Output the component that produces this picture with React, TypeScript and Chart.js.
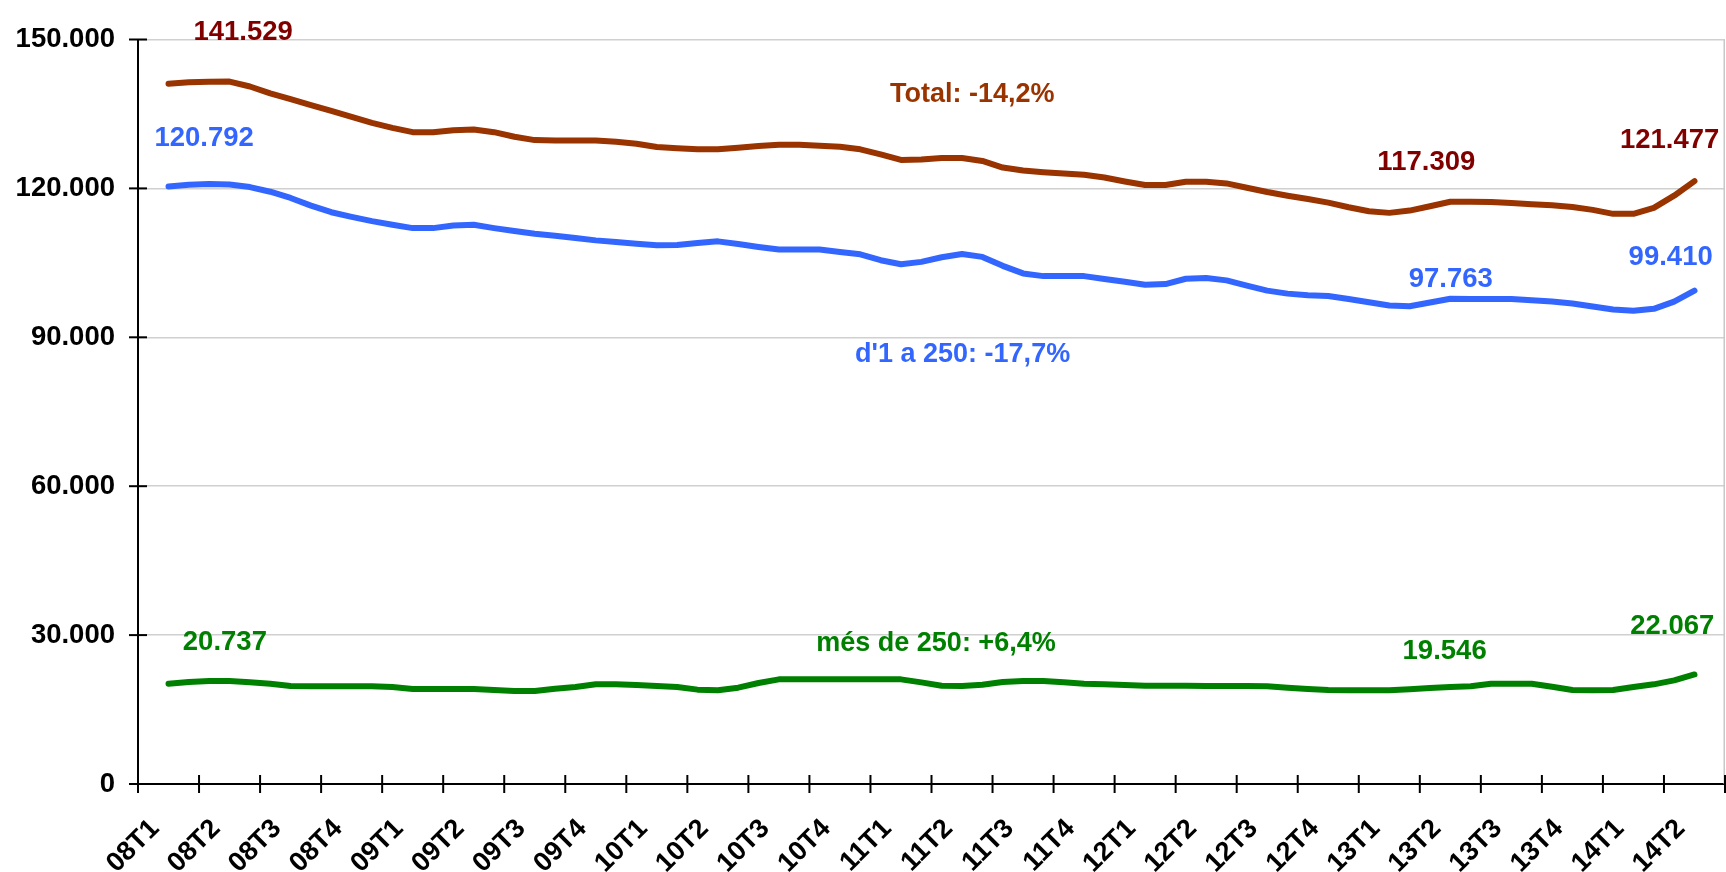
import React, { useEffect, useRef } from 'react';
import { Chart, registerables } from 'chart.js';

Chart.register(...registerables);

// Quarter labels (one every 3 months on the axis)
const quarterLabels = [
  '08T1', '08T2', '08T3', '08T4',
  '09T1', '09T2', '09T3', '09T4',
  '10T1', '10T2', '10T3', '10T4',
  '11T1', '11T2', '11T3', '11T4',
  '12T1', '12T2', '12T3', '12T4',
  '13T1', '13T2', '13T3', '13T4',
  '14T1', '14T2',
];

// Monthly values, Feb 2008 .. May 2014
const totalValues = [
  141100, 141400, 141470, 141529, 140530, 139150, 138000, 136800, 135600, 134400,
  133200, 132200, 131330, 131330, 131730, 131870, 131330, 130400, 129730, 129670,
  129670, 129670, 129400, 129000, 128330, 128070, 127870, 127870, 128200, 128530,
  128800, 128800, 128600, 128400, 127870, 126870, 125730, 125800, 126130, 126130,
  125530, 124200, 123600, 123270, 123000, 122730, 122200, 121400, 120670, 120670,
  121330, 121330, 121000, 120130, 119270, 118530, 117870, 117130, 116200, 115400,
  115070, 115530, 116400, 117309, 117330, 117270, 117070, 116800, 116600, 116270,
  115670, 114870, 114870, 116070, 118530, 121477,
];

const smallFirmValues = [
  120400, 120730, 120870, 120792, 120270, 119330, 118070, 116530, 115200, 114270,
  113400, 112670, 112000, 112000, 112530, 112670, 112000, 111400, 110870, 110470,
  110000, 109530, 109200, 108870, 108530, 108600, 109000, 109330, 108800, 108200,
  107670, 107670, 107670, 107200, 106730, 105530, 104730, 105200, 106130, 106800,
  106200, 104400, 102870, 102330, 102330, 102330, 101730, 101200, 100600, 100730,
  101800, 101930, 101470, 100400, 99400, 98800, 98470, 98330, 97730, 97070,
  96400, 96270, 97000, 97763, 97730, 97730, 97730, 97470, 97200, 96800,
  96200, 95600, 95330, 95730, 97200, 99410,
];

const largeFirmValues = [
  20210, 20550, 20750, 20737, 20480, 20210, 19750, 19680, 19680, 19680,
  19680, 19550, 19150, 19150, 19150, 19150, 18950, 18750, 18750, 19210,
  19550, 20080, 20080, 19950, 19750, 19550, 19010, 18880, 19410, 20350,
  21080, 21080, 21080, 21080, 21080, 21080, 21080, 20480, 19810, 19750,
  20010, 20550, 20750, 20750, 20480, 20210, 20080, 19950, 19810, 19810,
  19810, 19750, 19750, 19750, 19680, 19410, 19150, 18950, 18880, 18880,
  18880, 19080, 19340, 19546, 19680, 20210, 20210, 20210, 19610, 18950,
  18880, 18950, 19550, 20080, 20880, 22067,
];

const FIRST_MONTH_INDEX = 1; // data starts at second month slot
const MONTHS_ON_AXIS = 78;

// Text annotations: text, x (month units), y (value), colour
const noteTexts = [
  '141.529', '120.792', 'Total: -14,2%', '117.309', '121.477',
  '97.763', '99.410', "d'1 a 250: -17,7%",
  '20.737', 'més de 250: +6,4%', '19.546', '22.067',
];
const noteX = [5.17, 3.25, 41.0, 63.32, 75.28, 64.52, 75.33, 40.53, 4.27, 39.22, 64.22, 75.41];
const noteY = [149800, 128640, 137450, 123778, 128122, 100095, 104499, 85040, 27025, 26885, 25224, 30229];
const noteColors = [
  '#800000', '#3366FF', '#993300', '#800000', '#800000',
  '#3366FF', '#3366FF', '#3366FF',
  '#008000', '#008000', '#008000', '#008000',
];

const FONT = '"Liberation Sans", Arial, sans-serif';

const toPoints = (vals: number[]) =>
  vals.map((v, k) => ({ x: k + FIRST_MONTH_INDEX + 0.5, y: v }));

const fmt = (v: number) => String(v).replace(/\B(?=(\d{3})+(?!\d))/g, '.');

const decorPlugin = {
  id: 'decor',
  afterDraw(chart: any) {
    const { ctx, chartArea, scales } = chart;
    const x = scales.x;
    const y = scales.y;
    ctx.save();
    // right border of the plot area
    ctx.strokeStyle = '#c8c8c8';
    ctx.lineWidth = 1.5;
    ctx.beginPath();
    ctx.moveTo(chartArea.right - 0.75, chartArea.top);
    ctx.lineTo(chartArea.right - 0.75, chartArea.bottom);
    ctx.stroke();
    // crossing tick marks
    ctx.strokeStyle = '#000';
    ctx.lineWidth = 2;
    y.ticks.forEach((t: any) => {
      const py = y.getPixelForValue(t.value);
      ctx.beginPath();
      ctx.moveTo(chartArea.left - 9, py);
      ctx.lineTo(chartArea.left + 9, py);
      ctx.stroke();
    });
    x.ticks.forEach((t: any) => {
      const px = x.getPixelForValue(t.value);
      ctx.beginPath();
      ctx.moveTo(px, chartArea.bottom - 9);
      ctx.lineTo(px, chartArea.bottom + 9);
      ctx.stroke();
    });
    // annotations
    ctx.textAlign = 'center';
    ctx.textBaseline = 'alphabetic';
    noteTexts.forEach((txt, i) => {
      const isNumber = /^[\d.]+$/.test(txt);
      ctx.font = `bold ${isNumber ? 27.5 : 27}px ${FONT}`;
      ctx.fillStyle = noteColors[i];
      ctx.fillText(txt, x.getPixelForValue(noteX[i]), y.getPixelForValue(noteY[i]));
    });
    ctx.restore();
  },
};

export default function App() {
  const canvasRef = useRef<HTMLCanvasElement | null>(null);

  useEffect(() => {
    document.body.style.margin = '0';
    const canvas = canvasRef.current;
    if (!canvas) return;
    const lineDs = (label: string, vals: number[], color: string) => ({
      label,
      data: toPoints(vals),
      borderColor: color,
      backgroundColor: color,
      borderWidth: 6,
      pointRadius: 0,
      tension: 0,
      borderJoinStyle: 'round' as const,
      borderCapStyle: 'round' as const,
      fill: false,
    });
    const chart = new Chart(canvas, {
      type: 'line',
      data: {
        datasets: [
          lineDs('Total', totalValues, '#993300'),
          lineDs("d'1 a 250", smallFirmValues, '#3366FF'),
          lineDs('més de 250', largeFirmValues, '#008000'),
        ],
      },
      options: {
        animation: false,
        responsive: false,
        devicePixelRatio: 1,
        layout: { padding: { top: 35, right: 1, left: 0, bottom: 0 } },
        plugins: {
          legend: { display: false },
          tooltip: { enabled: false },
        },
        scales: {
          x: {
            type: 'linear',
            min: 0,
            max: MONTHS_ON_AXIS,
            afterFit: (s: any) => {
              s.height = 88;
              s.paddingLeft = 0;
              s.paddingRight = 0;
            },
            ticks: {
              stepSize: 3,
              autoSkip: false,
              maxRotation: 45,
              minRotation: 45,
              padding: 29,
              labelOffset: 17,
              color: '#000',
              font: { family: FONT, size: 27, weight: 'bold' },
              callback: (v: any) => quarterLabels[Math.round(Number(v) / 3)] ?? '',
            },
            grid: { display: false, drawTicks: false },
            border: { display: true, color: '#000', width: 2 },
          },
          y: {
            min: 0,
            max: 150000,
            afterFit: (s: any) => {
              s.width = 138;
            },
            ticks: {
              stepSize: 30000,
              padding: 23,
              color: '#000',
              font: { family: FONT, size: 27.5, weight: 'bold' },
              callback: (v: any) => fmt(Number(v)),
            },
            grid: { color: '#d0d0d0', lineWidth: 1.5, drawTicks: false },
            border: { display: true, color: '#000', width: 2 },
          },
        },
      },
      plugins: [decorPlugin],
    });
    return () => chart.destroy();
  }, []);

  return (
    <div style={{ width: 1726, height: 872, position: 'relative', background: '#fff' }}>
      <canvas ref={canvasRef} width={1726} height={872} style={{ display: 'block' }} />
    </div>
  );
}
